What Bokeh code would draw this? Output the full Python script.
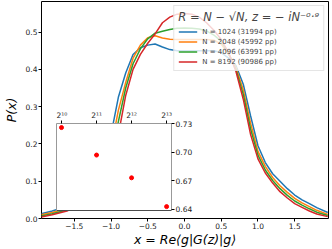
from bokeh.plotting import figure
from bokeh.models import Range1d, FixedTicker, NumeralTickFormatter, Legend, LegendItem, Span
from bokeh.embed import file_html
from bokeh.resources import INLINE

# ---------------- data ----------------
x_vals = [-1.95, -1.8, -1.6, -1.4, -1.2, -1.1, -1.0, -0.9, -0.8, -0.7, -0.6, -0.5,
          -0.4, -0.3, -0.2, -0.1, 0.0, 0.1, 0.2, 0.3, 0.4, 0.5, 0.6, 0.7, 0.8, 0.9,
          1.0, 1.1, 1.2, 1.3, 1.4, 1.5, 1.6, 1.7, 1.8, 1.95]

p_1024 = [0.013, 0.020, 0.032, 0.055, 0.095, 0.135, 0.225, 0.325, 0.390, 0.440, 0.458, 0.465,
          0.468, 0.460, 0.453, 0.450, 0.450, 0.450, 0.450, 0.450, 0.450, 0.445, 0.430, 0.410, 0.360, 0.275,
          0.195, 0.150, 0.120, 0.100, 0.080, 0.063, 0.050, 0.040, 0.029, 0.016]
p_2048 = [0.010, 0.016, 0.027, 0.050, 0.088, 0.122, 0.190, 0.290, 0.365, 0.430, 0.465, 0.485,
          0.490, 0.484, 0.481, 0.480, 0.480, 0.480, 0.480, 0.480, 0.478, 0.468, 0.440, 0.405, 0.345, 0.255,
          0.180, 0.140, 0.110, 0.088, 0.070, 0.054, 0.042, 0.032, 0.022, 0.011]
p_4096 = [0.007, 0.013, 0.023, 0.045, 0.082, 0.112, 0.170, 0.260, 0.350, 0.415, 0.455, 0.482,
          0.497, 0.502, 0.507, 0.510, 0.511, 0.510, 0.508, 0.503, 0.492, 0.475, 0.443, 0.400, 0.333, 0.240,
          0.170, 0.130, 0.102, 0.080, 0.062, 0.047, 0.036, 0.026, 0.017, 0.008]
p_8192 = [0.004, 0.010, 0.020, 0.040, 0.075, 0.100, 0.150, 0.225, 0.330, 0.400, 0.440, 0.470,
          0.495, 0.525, 0.540, 0.548, 0.550, 0.548, 0.540, 0.525, 0.505, 0.480, 0.445, 0.395, 0.320, 0.225,
          0.160, 0.122, 0.095, 0.072, 0.055, 0.040, 0.030, 0.020, 0.012, 0.005]

sizes = [1024, 2048, 4096, 8192]
pp_counts = [31994, 45992, 63991, 90986]
series = [p_1024, p_2048, p_4096, p_8192]
colors = ["#1f77b4", "#ff7f0e", "#2ca02c", "#d62728"]

inset_vals = [0.726, 0.697, 0.673, 0.6426]

x_ticks = [-1.5, -1.0, -0.5, 0.0, 0.5, 1.0, 1.5]
x_tick_labels = ["\u22121.5", "\u22121.0", "\u22120.5", "0.0", "0.5", "1.0", "1.5"]
y_ticks = [0.0, 0.1, 0.2, 0.3, 0.4, 0.5]
inset_x_labels = ["2\u00b9\u2070", "2\u00b9\u00b9", "2\u00b9\u00b2", "2\u00b9\u00b3"]
inset_y_ticks = [0.64, 0.67, 0.70, 0.73]

FONT = "DejaVu Sans"
TICK_FS = "7.5px"

# ---------------- main figure ----------------
p = figure(width=332, height=249, output_backend="svg", toolbar_location=None,
           x_range=Range1d(-1.946, 1.96), y_range=Range1d(0, 0.582),
           min_border_left=41, min_border_right=4, min_border_top=1, min_border_bottom=28)
p.background_fill_color = "white"
p.border_fill_color = "white"
p.outline_line_color = "black"
p.outline_line_width = 1
p.xgrid.visible = False
p.ygrid.visible = False

items = []
for n, c, ys, ppc in zip(sizes, colors, series, pp_counts):
    r = p.line(x_vals, ys, line_color=c, line_width=1.5)
    items.append(LegendItem(label=f"N = {n} ({ppc} pp)", renderers=[r]))

for ax in (p.xaxis[0], p.yaxis[0]):
    ax.major_tick_in = 0
    ax.major_tick_out = 3
    ax.minor_tick_line_color = None
    ax.major_label_text_font = FONT
    ax.major_label_text_font_size = TICK_FS
    ax.major_label_text_color = "#222222"
    ax.axis_label_text_font = FONT
    ax.axis_label_text_font_size = "12.5px"
    ax.axis_label_text_font_style = "italic"
    ax.axis_label_text_color = "black"
    ax.major_label_standoff = 1
    ax.axis_label_standoff = 0
    ax.axis_line_color = None

p.xaxis[0].ticker = FixedTicker(ticks=x_ticks)
p.xaxis[0].major_label_overrides = dict(zip(x_ticks, x_tick_labels))
p.yaxis[0].ticker = FixedTicker(ticks=y_ticks)
p.yaxis[0].formatter = NumeralTickFormatter(format="0.0")
p.yaxis[0].axis_label_standoff = 4
p.xaxis[0].axis_label = "x = Re\u27e8g|G(z)|g\u27e9"
p.yaxis[0].axis_label = "P(x)"

legend = Legend(items=items, location="top_right")
legend.title = "R = N \u2212 \u221aN, z = \u2212 iN\u207b\u2070\u00b7\u2079"
legend.title_text_font = FONT
legend.title_text_font_size = "11.5px"
legend.title_text_font_style = "italic"
legend.title_standoff = 3
legend.label_text_font = FONT
legend.label_text_font_size = "7px"
legend.label_height = 9
legend.glyph_height = 9
legend.glyph_width = 19
legend.spacing = 1
legend.padding = 4
legend.margin = 4
legend.background_fill_alpha = 0.8
legend.border_line_color = "#cccccc"
p.add_layout(legend)

# ---------------- inset (separate root, pulled over the main plot) ----------------
inset = figure(output_backend="svg", toolbar_location=None,
               frame_width=115, frame_height=87,
               x_axis_type="log", x_axis_location="above", y_axis_location="right",
               x_range=Range1d(2 ** 9.857, 2 ** 13.14), y_range=Range1d(0.6385, 0.7303),
               min_border_left=0, min_border_bottom=5, min_border_top=16, min_border_right=24,
               margin=(-142, 0, 0, 56))
inset.background_fill_color = "white"
inset.border_fill_color = None
inset.outline_line_color = "#999999"
inset.xgrid.visible = False
inset.ygrid.visible = False
inset.scatter(sizes, inset_vals, size=4, color="red")
inset.add_layout(Span(location=0.6385, dimension="width", line_color="black", line_width=1))

for ax in (inset.xaxis[0], inset.yaxis[0]):
    ax.major_tick_in = 0
    ax.major_tick_out = 3
    ax.minor_tick_line_color = None
    ax.major_label_text_font = FONT
    ax.major_label_text_font_size = TICK_FS
    ax.major_label_text_color = "#222222"
    ax.major_label_standoff = 1
    ax.axis_line_color = None
inset.xaxis[0].ticker = FixedTicker(ticks=sizes, minor_ticks=[])
inset.xaxis[0].major_label_overrides = dict(zip(sizes, inset_x_labels))
inset.yaxis[0].ticker = FixedTicker(ticks=inset_y_ticks)
inset.yaxis[0].formatter = NumeralTickFormatter(format="0.00")

open("out.html", "w").write(file_html([p, inset], INLINE))
